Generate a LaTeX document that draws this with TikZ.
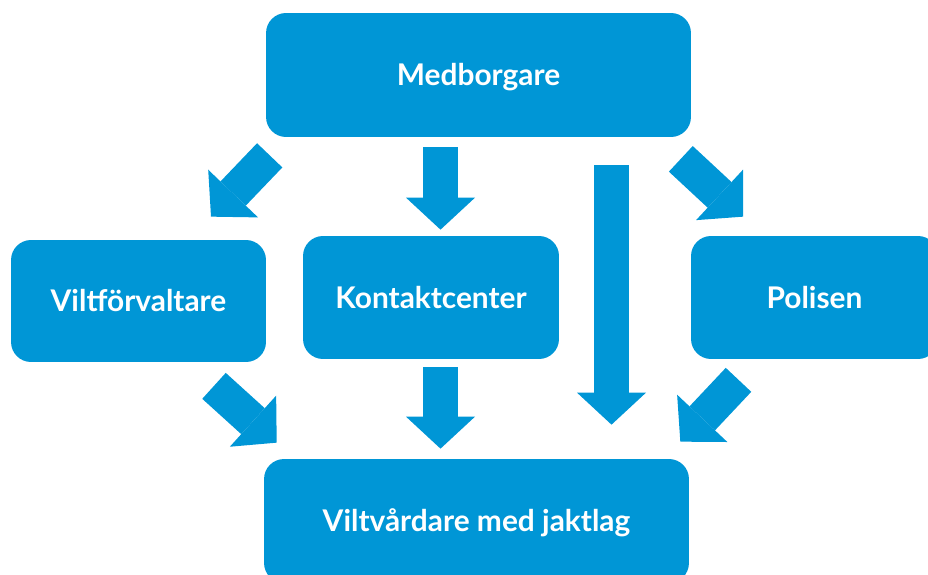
\documentclass[tikz,border=0pt]{standalone}
\usepackage{fontspec}
\setmainfont{Lato}
\usepackage{tikz}
\usetikzlibrary{arrows.meta, positioning, calc}
\definecolor{vvblue}{RGB}{0,150,214}

\begin{document}
\begin{tikzpicture}[x=0.02cm, y=-0.02cm,
  box/.style={fill=vvblue, rounded corners=0.4cm, text=white, inner sep=0pt,
    font=\fontsize{17}{20}\selectfont\bfseries, text height=1.25em, text depth=0pt},
  blockarr/.style={vvblue, line width=0.7cm,
    -{Triangle[length=0.64cm, width=1.38cm, line width=0pt]}}]
\useasboundingbox (0,0) rectangle (928,574);
\clip (0,0) rectangle (928,574);

% ---- boxes ----
\node[box, minimum width=8.5cm, minimum height=2.48cm] (med) at (478.5,75) {Medborgare};
\node[box, minimum width=5.1cm, minimum height=2.44cm] (vf)  at (138.5,301) {Viltförvaltare};
\node[box, minimum width=5.12cm, minimum height=2.46cm] (kc) at (431,297.5) {Kontaktcenter};
\node[box, minimum width=4.94cm, minimum height=2.46cm] (pol) at (814.5,297.5) {Polisen};
\node[box, minimum width=8.5cm, minimum height=2.48cm] (vv)  at (476.5,521) {Viltvårdare med jaktlag};

% ---- arrows from Medborgare ----
\draw[blockarr] ([shift={(4,18)}]med.south west) -- ([shift={(72.5,-23)}]vf.north);
\draw[blockarr] ([shift={(-38,10)}]med.south) -- ([shift={(9.5,-6)}]kc.north);
\draw[blockarr] ([shift={(133,28)}]med.south) -- ([shift={(135,-34)}]vv.north);
\draw[blockarr] ([shift={(-10.5,21.5)}]med.south east) -- ([shift={(-71.5,-19)}]pol.north);

% ---- arrows into Viltvårdare ----
\draw[blockarr] ([shift={(75.5,23.5)}]vf.south) -- ([shift={(13,-16)}]vv.north west);
\draw[blockarr] ([shift={(9.5,8)}]kc.south) -- ([shift={(-36,-10)}]vv.north);
\draw[blockarr] ([shift={(-76,20.5)}]pol.south) -- ([shift={(-9,-17)}]vv.north east);
\end{tikzpicture}
\end{document}
